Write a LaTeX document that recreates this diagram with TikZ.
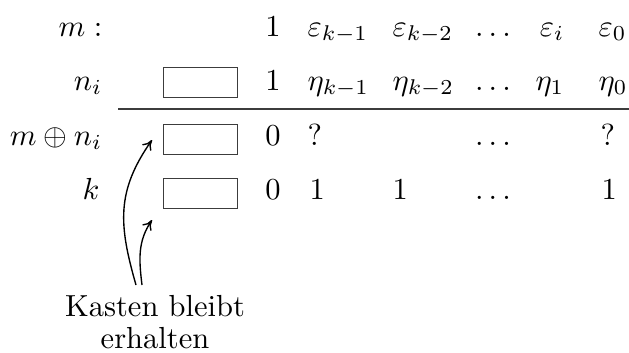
\documentclass[tikz,border=0pt]{standalone}
\usetikzlibrary{arrows.meta}

\definecolor{kastLine}{RGB}{60,60,60}

\tikzset{
  rowlabel/.style={anchor=base east, inner sep=0pt},
  entry/.style={anchor=base west, inner sep=0pt},
  centry/.style={anchor=base, inner sep=0pt},
  kasten/.style={draw=kastLine, line width=0.5pt, minimum width=24.3pt, minimum height=9.9pt, inner sep=0pt},
  hinweis/.style={->, >={To[length=3.2pt,width=3.6pt]}, line width=0.45pt}
}

\begin{document}
\begin{tikzpicture}[x=0.328pt, y=0.328pt]
  \useasboundingbox (0,0) rectangle (629,352);
  % Zeilenbeschriftung
  \node[rowlabel] (lm) at (103,316) {$m:$};
  \node[rowlabel] (ln) at (103,262) {$n_i$};
  \node[rowlabel] (lx) at (103,207) {$m\oplus n_i$};
  \node[rowlabel] (lk) at (100,153) {$k$};
  % Kaesten
  \node[kasten] (b2) at (200.5,269.5) {};
  \node[kasten] (b3) at (200.5,212.5) {};
  \node[kasten] (b4) at (200.5,158.5) {};
  % Zeile m
  \node[centry] (m0) at (273,316) {$1$};
  \node[entry] (m1) at (307,316) {$\varepsilon_{k-1}$};
  \node[entry] (m2) at (392,316) {$\varepsilon_{k-2}$};
  \node[centry] (m3) at (493,316) {$\ldots$};
  \node[centry] (m4) at (552,316) {$\varepsilon_i$};
  \node[entry] (m5) at (598,316) {$\varepsilon_0$};
  % Zeile n_i
  \node[centry] (n0) at (273,262) {$1$};
  \node[entry] (n1) at (307,262) {$\eta_{k-1}$};
  \node[entry] (n2) at (392,262) {$\eta_{k-2}$};
  \node[centry] (n3) at (493,262) {$\ldots$};
  \node[centry] (n4) at (550,262) {$\eta_1$};
  \node[entry] (n5) at (598,262) {$\eta_0$};
  % Strich
  \draw[draw=kastLine, line width=0.5pt] (118,243) -- (629,243);
  % Zeile m xor n_i
  \node[centry] (x0) at (273,207) {$0$};
  \node[entry] (x1) at (307,207) {$?$};
  \node[centry] (x3) at (493,207) {$\ldots$};
  \node[entry] (x5) at (600,207) {$?$};
  % Zeile k
  \node[centry] (k0) at (273,153) {$0$};
  \node[entry] (k1) at (309,153) {$1$};
  \node[entry] (k2) at (392,153) {$1$};
  \node[centry] (k3) at (493,153) {$\ldots$};
  \node[entry] (k5) at (601,153) {$1$};
  % Hinweis
  \node[align=center, inner sep=0pt] (txt) at (155,30) {Kasten bleibt\\[-1.5pt]erhalten};
  \coordinate (s1) at (136,67);
  \coordinate (s2) at (142,67);
  \coordinate (t1) at (152,212);
  \coordinate (t2) at (152,132);
  \draw[hinweis] (s1) to[out=106, in=-125, looseness=1.1] (t1);
  \draw[hinweis] (s2) to[out=97, in=-124] (t2);
\end{tikzpicture}
\end{document}
